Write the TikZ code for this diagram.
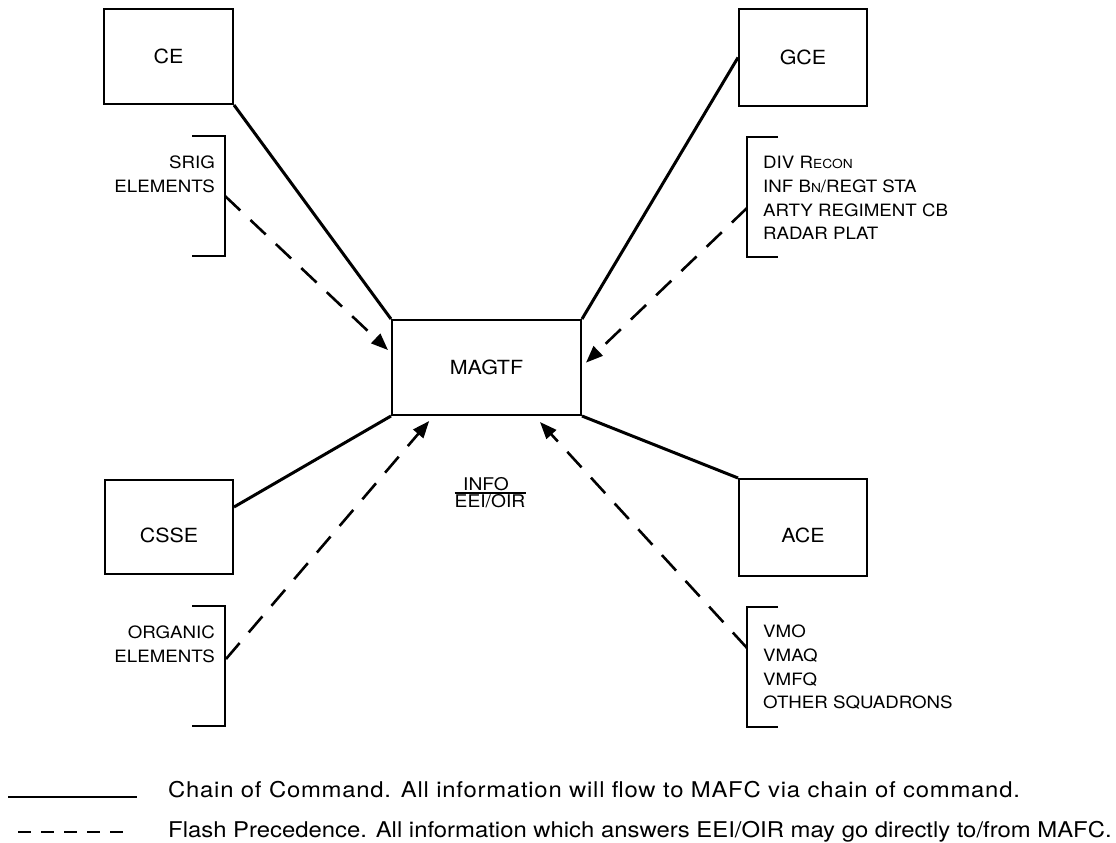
\documentclass[tikz,border=0pt]{standalone}
\usepackage{fontspec}
\setmainfont{TeX Gyre Heros}[FakeStretch=1.1]
\usetikzlibrary{arrows.meta,calc}
\newcommand{\smallcapsof}[1]{{\fontsize{12.5}{12.5}\selectfont #1}}
\begin{document}
\begin{tikzpicture}[x=1pt,y=-1pt,
  unitbox/.style={draw, line width=2pt, inner sep=0pt,
    minimum width=128pt, minimum height=96pt},
  boxtext/.style={inner sep=0pt, font=\fontsize{19.5}{19.5}\selectfont},
  command/.style={line width=3pt},
  flash/.style={line width=2.6pt, dash pattern=on 21pt off 14pt,
    -{Triangle[length=17pt,width=13pt]}},
  bracket/.style={line width=2pt},
  listtext/.style={inner sep=0pt, font=\fontsize{17}{17}\selectfont},
  infotext/.style={inner sep=0pt, font=\fontsize{17.5}{17.5}\selectfont},
  legendtext/.style={inner sep=0pt, font=\fontsize{21.7}{21.7}\selectfont}
]
\useasboundingbox (0,0) rectangle (1116,843);

% element boxes
\node[unitbox, minimum width=129pt, minimum height=95pt,
  label={[boxtext]center:CE}] (ce) at (168.5,56.5) {};
\node[unitbox, minimum height=97pt,
  label={[boxtext]center:GCE}] (gce) at (803,57.5) {};
\node[unitbox, minimum width=189pt, minimum height=95pt,
  label={[boxtext]center:MAGTF}] (magtf) at (486.5,367.5) {};
\node[unitbox, minimum height=94pt,
  label={[boxtext,yshift=-8pt]center:CSSE}] (csse) at (169,527) {};
\node[unitbox, minimum height=97pt,
  label={[boxtext,yshift=-8pt]center:ACE}] (ace) at (803,527.5) {};

% chain of command
\draw[command] (ce.south east) -- (magtf.north west);
\draw[command] (gce.west) -- (magtf.north east);
\draw[command] ([yshift=20pt]csse.east) -- (magtf.south west);
\draw[command] (magtf.south east) -- (ace.north west);

% brackets grouping the collection elements
\draw[bracket] (192,136) -- (225,136) -- (225,256) -- (192,256);
\draw[bracket] (192,606) -- (225,606) -- (225,726) -- (192,726);
\draw[bracket] (778,137) -- (747,137) -- (747,257) -- (778,257);
\draw[bracket] (778,607) -- (747,607) -- (747,727) -- (778,727);
\coordinate (srig-tap) at (225,196);
\coordinate (organic-tap) at (226,659);
\coordinate (gce-tap) at (747,208);
\coordinate (ace-tap) at (747,648);

% element lists
\node[listtext, anchor=base east] (srig-1) at (215,168) {SRIG};
\node[listtext, anchor=base east] (srig-2) at (215,192) {ELEMENTS};
\node[listtext, anchor=base east] (organic-1) at (215,638) {ORGANIC};
\node[listtext, anchor=base east] (organic-2) at (215,662) {ELEMENTS};
\node[listtext, anchor=base west] (gcelist-1) at (763,168) {DIV R\smallcapsof{ECON}};
\node[listtext, anchor=base west] (gcelist-2) at (763,192) {INF B\smallcapsof{N}/REGT STA};
\node[listtext, anchor=base west] (gcelist-3) at (763,216) {ARTY REGIMENT CB};
\node[listtext, anchor=base west] (gcelist-4) at (763,239) {RADAR PLAT};
\node[listtext, anchor=base west] (acelist-1) at (763,637) {VMO};
\node[listtext, anchor=base west] (acelist-2) at (763,661) {VMAQ};
\node[listtext, anchor=base west] (acelist-3) at (763,685) {VMFQ};
\node[listtext, anchor=base west] (acelist-4) at (763,708) {OTHER SQUADRONS};

% flash precedence paths into MAGTF
\coordinate (magtf-w) at ($(magtf.north west)!0.32!(magtf.south west)+(-3,0)$);
\coordinate (magtf-e) at ($(magtf.north east)!0.45!(magtf.south east)+(4,0)$);
\coordinate (magtf-sw) at ($(magtf.south west)!0.2!(magtf.south east)+(0,5)$);
\coordinate (magtf-se) at ($(magtf.south west)!0.78!(magtf.south east)+(0,6)$);
\draw[flash] (srig-tap) -- (magtf-w);
\draw[flash] (gce-tap) -- (magtf-e);
\draw[flash] (organic-tap) -- (magtf-sw);
\draw[flash] (ace-tap) -- (magtf-se);

% info over EEI/OIR
\node[infotext, anchor=base] (info) at (486,490) {INFO};
\node[infotext, anchor=base] (eei) at (490,507) {EEI/OIR};
\draw[line width=1.5pt] (eei.west |- 0,493) coordinate (bar-l) -- (eei.east |- 0,493) coordinate (bar-r);

% legend
\coordinate (solid-l) at (8,797);
\coordinate (solid-r) at (137,797);
\coordinate (dash-l) at (18,832);
\coordinate (dash-r) at (123,832);
\draw[line width=2pt] (solid-l) -- (solid-r);
\draw[line width=1.8pt, dash pattern=on 13pt off 10pt] (dash-l) -- (dash-r);
\node[legendtext, anchor=base west] (legend-chain) at (168,797)
  {\addfontfeature{LetterSpace=3.5}Chain of Command. All information will flow to MAFC via chain of command.};
\node[legendtext, anchor=base west] (legend-flash) at (168,837)
  {Flash Precedence. All information which answers EEI/OIR may go directly to/from MAFC.};
\end{tikzpicture}
\end{document}
